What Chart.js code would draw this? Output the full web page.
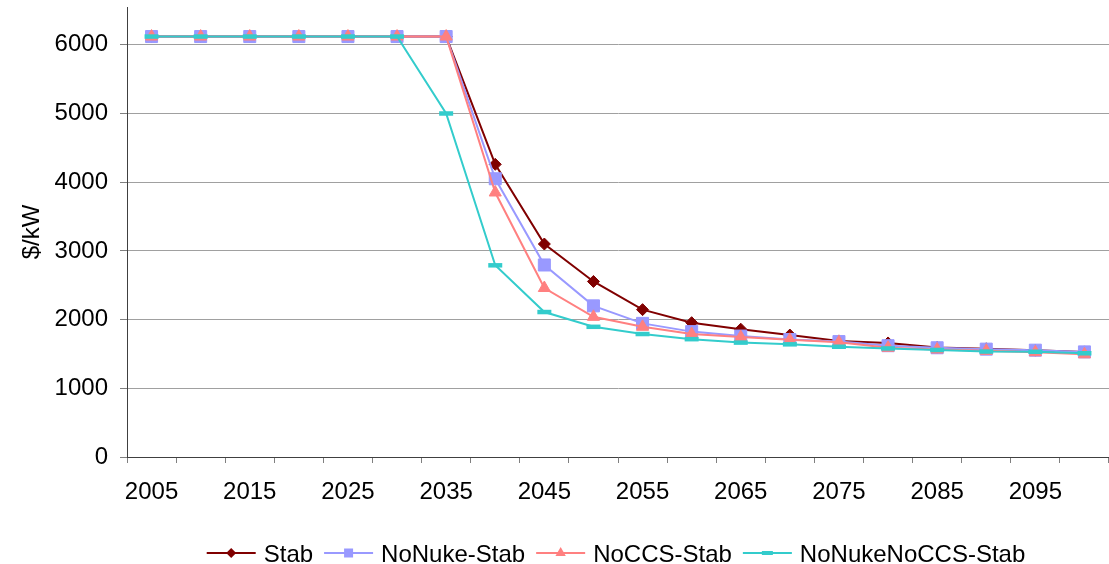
<!DOCTYPE html>
<html>
<head>
<meta charset="utf-8">
<script src="https://cdn.jsdelivr.net/npm/chart.js@4/dist/chart.umd.min.js"></script>
<style>
  html, body { margin: 0; padding: 0; background: #fff; overflow: hidden; }
  canvas { display: block; }
</style>
</head>
<body>
<canvas id="c" width="1109" height="564"></canvas>
<script>
// Capital cost by scenario, $/kW, every five years
const years = ['2005','2010','2015','2020','2025','2030','2035','2040','2045','2050',
               '2055','2060','2065','2070','2075','2080','2085','2090','2095','2100'];

const stab         = [6120,6120,6120,6120,6120,6120,6120,4260,3100,2555,
                      2145,1955,1860,1775,1690,1660,1595,1575,1555,1530];
const noNukeStab   = [6120,6120,6120,6120,6120,6120,6120,4050,2795,2200,
                      1945,1825,1760,1710,1680,1620,1590,1570,1555,1530];
const noCcsStab    = [6120,6120,6120,6120,6120,6120,6120,3850,2460,2040,
                      1895,1790,1745,1705,1670,1590,1565,1545,1525,1495];
const noNukeNoCcs  = [6120,6120,6120,6120,6120,6120,5000,2790,2110,1895,
                      1790,1715,1665,1640,1605,1580,1558,1535,1532,1510];

const yTicks = [0,1000,2000,3000,4000,5000,6000];

const FONT = '"Liberation Sans", Arial, sans-serif';
const fontSpec = { family: FONT, size: 24 };

// Small marker painter for the key below the plot
function paintMarker(ctx, style, color, x, y) {
  ctx.fillStyle = color;
  ctx.strokeStyle = color;
  ctx.beginPath();
  if (style === 'rectRot') {
    const r = 5;
    ctx.moveTo(x, y - r); ctx.lineTo(x + r, y); ctx.lineTo(x, y + r); ctx.lineTo(x - r, y);
    ctx.closePath(); ctx.fill();
  } else if (style === 'rect') {
    ctx.rect(x - 4.5, y - 4.5, 9, 9); ctx.fill();
  } else if (style === 'triangle') {
    const r = 6;
    ctx.moveTo(x, y - r);
    ctx.lineTo(x + r * 0.866, y + r / 2);
    ctx.lineTo(x - r * 0.866, y + r / 2);
    ctx.closePath(); ctx.fill();
  } else if (style === 'line') {
    ctx.rect(x - 5.5, y - 2, 11, 4); ctx.fill();
  }
}

const seriesKey = {
  id: 'seriesKey',
  afterDraw(chart) {
    const ctx = chart.ctx;
    const ca = chart.chartArea;
    ctx.save();
    ctx.font = '24px ' + FONT;
    const lineLen = 49, gapText = 8, gapItem = 11;
    const items = chart.data.datasets.map(ds => ({ ds, w: ctx.measureText(ds.label).width }));
    const total = items.reduce((a, it) => a + lineLen + gapText + it.w, 0) + gapItem * (items.length - 1);
    let x = (ca.left + ca.right) / 2 - 2 - total / 2;
    const yLine = 553;
    items.forEach(it => {
      const ds = it.ds;
      ctx.strokeStyle = ds.borderColor;
      ctx.lineWidth = 2;
      ctx.beginPath();
      ctx.moveTo(x, yLine); ctx.lineTo(x + lineLen, yLine);
      ctx.stroke();
      paintMarker(ctx, ds.pointStyle, ds.borderColor, x + lineLen / 2, yLine);
      ctx.fillStyle = '#000';
      ctx.textBaseline = 'alphabetic';
      ctx.textAlign = 'left';
      ctx.fillText(ds.label, x + lineLen + gapText, 562);
      x += lineLen + gapText + it.w + gapItem;
    });
    ctx.restore();
  }
};

const series = (label, data, color, style, radius, ptBorder, order) => ({
  label, data,
  borderColor: color,
  backgroundColor: color,
  borderWidth: 2,
  pointStyle: style,
  pointRadius: radius,
  pointHoverRadius: radius,
  pointBackgroundColor: color,
  pointBorderColor: color,
  pointBorderWidth: ptBorder,
  tension: 0,
  fill: false,
  clip: false,
  order
});

new Chart(document.getElementById('c'), {
  type: 'line',
  data: {
    labels: years,
    datasets: [
      series('Stab', stab, '#800000', 'rectRot', 6, 1, 3),
      series('NoNuke-Stab', noNukeStab, '#9999FF', 'rect', 8.5, 1, 2),
      series('NoCCS-Stab', noCcsStab, '#FF8080', 'triangle', 7, 1, 1),
      series('NoNukeNoCCS-Stab', noNukeNoCcs, '#33CCCC', 'line', 7, 4.5, 0)
    ]
  },
  options: {
    responsive: false,
    animation: false,
    layout: { autoPadding: false, padding: { top: 7, bottom: 57, left: 0, right: 0 } },
    plugins: { legend: { display: false }, tooltip: { enabled: false } },
    scales: {
      x: {
        type: 'category',
        offset: true,
        grid: { offset: true, drawOnChartArea: false, drawTicks: true, tickLength: 6, color: '#808080' },
        border: { color: '#404040', width: 1 },
        ticks: {
          autoSkip: false, maxRotation: 0, minRotation: 0, padding: 15,
          font: fontSpec, color: '#000',
          callback: (v, i) => (i % 2 === 0 ? years[i] : '')
        },
        afterFit: s => { s.height = 50; }
      },
      y: {
        min: 0,
        max: 6550,
        afterBuildTicks: s => { s.ticks = yTicks.map(v => ({ value: v })); },
        grid: { color: '#A0A0A0', tickLength: 7, tickColor: '#808080' },
        border: { color: '#404040', width: 1 },
        ticks: { padding: 12, font: fontSpec, color: '#000', callback: v => String(v) },
        title: { display: true, text: '$/kW', font: fontSpec, color: '#000', padding: { top: 18, bottom: 0 } },
        afterFit: s => { s.width = 127; s.paddingTop = 0; s.paddingBottom = 0; }
      }
    }
  },
  plugins: [seriesKey]
});
</script>
</body>
</html>
